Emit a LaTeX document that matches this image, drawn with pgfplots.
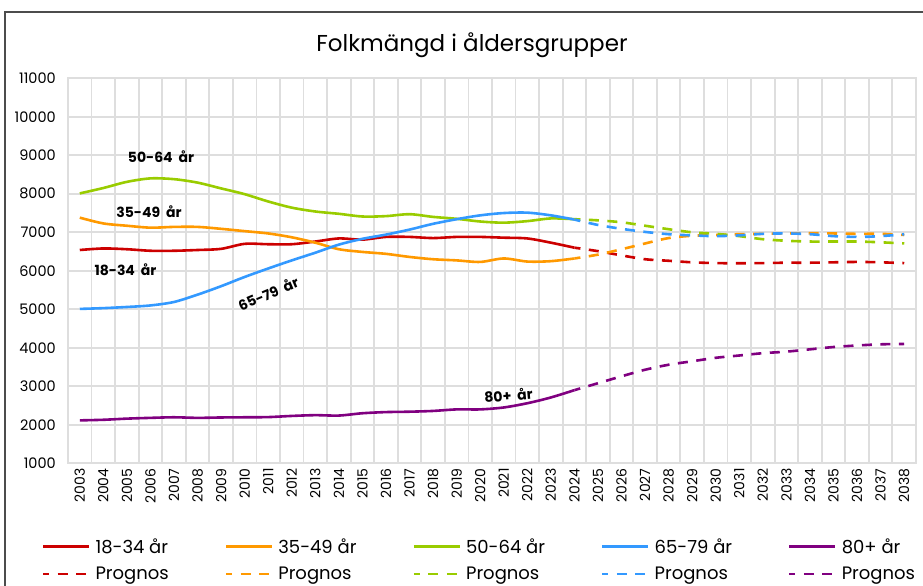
\documentclass[border=0pt]{standalone}
\usepackage{fontspec}
\setmainfont{Poppins}
\usepackage{pgfplots}
\usepackage{pgfplotstable}
\pgfplotsset{compat=1.18}
\definecolor{cRed}{RGB}{204,0,0}
\definecolor{cOrange}{RGB}{255,153,0}
\definecolor{cGreen}{RGB}{153,204,0}
\definecolor{cBlue}{RGB}{51,153,255}
\definecolor{cPurple}{RGB}{128,0,128}
\definecolor{cGrid}{RGB}{222,222,222}

\pgfplotstableread{
year r o g b p
2003 6540 7380 8010 5010 2115
2004 6580 7230 8150 5030 2130
2005 6560 7170 8310 5060 2160
2006 6520 7120 8400 5100 2180
2007 6520 7140 8380 5190 2195
2008 6540 7140 8290 5380 2180
2009 6570 7090 8140 5600 2190
2010 6700 7030 7990 5840 2195
2011 6690 6970 7800 6060 2200
2012 6690 6870 7640 6270 2230
2013 6760 6730 7540 6470 2250
2014 6840 6560 7480 6680 2240
2015 6810 6490 7410 6830 2300
2016 6880 6440 7420 6940 2330
2017 6880 6360 7470 7070 2340
2018 6850 6300 7400 7220 2360
2019 6880 6270 7350 7340 2400
2020 6880 6230 7280 7440 2400
2021 6860 6320 7250 7500 2450
2022 6840 6240 7290 7510 2560
2023 6730 6250 7360 7440 2710
2024 6600 6320 7340 7330 2900
}\hist

\pgfplotstableread{
year r o g b p
2024 6600 6320 7340 7330 2900
2025 6510 6420 7310 7190 3080
2026 6400 6560 7260 7090 3260
2027 6300 6710 7170 7010 3430
2028 6260 6850 7080 6950 3560
2029 6220 6910 7000 6920 3650
2030 6200 6930 6960 6900 3740
2031 6195 6950 6900 6920 3800
2032 6200 6960 6820 6960 3860
2033 6210 6970 6780 6970 3900
2034 6210 6975 6760 6950 3960
2035 6220 6970 6760 6900 4020
2036 6230 6960 6760 6880 4060
2037 6220 6960 6740 6900 4090
2038 6200 6930 6710 6950 4100
}\prog

\begin{document}
\begin{tikzpicture}[x=1bp,y=1bp]
\useasboundingbox (0,0) rectangle (923,586);
\draw[line width=1.5bp, black!70] (5,-5) -- (5,574) -- (930,574);
\node[font=\fontsize{23bp}{27bp}\selectfont] at (472,541) {Folkmängd i åldersgrupper};
\begin{axis}[
  at={(68bp,122.7bp)}, anchor=south west,
  scale only axis, width=848bp, height=385bp,
  xmin=2002.5, xmax=2038.5, ymin=1000, ymax=11000,
  xtick={2003,2004,...,2038},
  ytick={1000,2000,...,11000},
  scaled y ticks=false, scaled x ticks=false,
  minor xtick={2003.5,2004.5,...,2037.5},
  xminorgrids, ymajorgrids, xmajorgrids=false,
  grid style={cGrid, line width=1.8bp},
  minor grid style={cGrid, line width=1.8bp},
  axis line style={cGrid, line width=1.8bp},
  major tick length=0pt, minor tick length=0pt,
  /pgf/number format/assume math mode=true,
  /pgf/number format/1000 sep={},
  xticklabel style={font=\fontsize{14bp}{16bp}\selectfont, rotate=90, anchor=east, inner xsep=5bp, inner ysep=0pt},
  yticklabel style={font=\fontsize{14.5bp}{16bp}\selectfont, anchor=east, inner xsep=12bp, inner ysep=0pt},
  every axis plot/.append style={line width=2.6bp, smooth, tension=0.5, no markers},
  legend columns=5,
  legend cell align=left,
  legend image code/.code={\draw[#1, tension=0.5] (0bp,0bp) -- (46bp,0bp);},
  legend style={at={(-0.031,-0.19)}, anchor=north west, draw=none, fill=none,
    inner sep=0pt, row sep=8bp,
    font=\fontsize{18bp}{20bp}\selectfont,
    /tikz/every odd column/.append style={column sep=3bp},
    /tikz/every even column/.append style={column sep=54bp}},
]
\addplot[cRed] table[x=year,y=r]{\hist};
\addlegendentry{18-34 år}
\addplot[cOrange] table[x=year,y=o]{\hist};
\addlegendentry{35-49 år}
\addplot[cGreen] table[x=year,y=g]{\hist};
\addlegendentry{50-64 år}
\addplot[cBlue] table[x=year,y=b]{\hist};
\addlegendentry{65-79 år}
\addplot[cPurple] table[x=year,y=p]{\hist};
\addlegendentry{80+ år}
\addplot[cRed, dash pattern=on 10bp off 8.5bp, dash phase=4bp] table[x=year,y=r]{\prog};
\addlegendentry{Prognos}
\addplot[cOrange, dash pattern=on 10bp off 8.5bp, dash phase=4bp] table[x=year,y=o]{\prog};
\addlegendentry{Prognos}
\addplot[cGreen, dash pattern=on 10bp off 8.5bp, dash phase=4bp] table[x=year,y=g]{\prog};
\addlegendentry{Prognos}
\addplot[cBlue, dash pattern=on 10bp off 8.5bp, dash phase=4bp] table[x=year,y=b]{\prog};
\addlegendentry{Prognos}
\addplot[cPurple, dash pattern=on 10bp off 8.5bp, dash phase=4bp] table[x=year,y=p]{\prog};
\addlegendentry{Prognos}
\node[font=\bfseries\fontsize{14bp}{16bp}\selectfont] at (axis cs:2006.45,8955) {50-64~~år};
\node[font=\bfseries\fontsize{14bp}{16bp}\selectfont] at (axis cs:2005.94,7540) {35-49~~år};
\node[font=\bfseries\fontsize{14bp}{16bp}\selectfont] at (axis cs:2004.94,6033) {18-34~~år};
\node[font=\bfseries\fontsize{14bp}{16bp}\selectfont, rotate=23] at (axis cs:2011.0,5410) {65-79~~år};
\node[font=\bfseries\fontsize{14bp}{16bp}\selectfont, rotate=5] at (axis cs:2021.2,2774) {80+~~år};
\end{axis}
\end{tikzpicture}
\end{document}
